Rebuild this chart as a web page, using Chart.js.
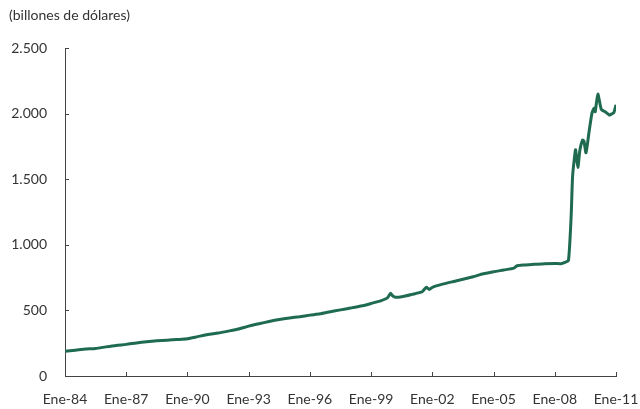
<!DOCTYPE html>
<html>
<head>
<meta charset="utf-8">
<script src="https://cdn.jsdelivr.net/npm/chart.js@4/dist/chart.umd.min.js"></script>
<style>
    html, body { margin: 0; padding: 0; background: #fff; }
    #wrap { width: 640px; height: 409px; position: relative; }
</style>
</head>
<body>
<div id="wrap"><canvas id="myChart"></canvas></div>
<script>
// base monetaria (fecha en años decimales, valor en miles de millones)
const fechas = [
    1984.0, 1984.5, 1985.0, 1985.5, 1986.0, 1986.5, 1987.0, 1987.5, 1988.0, 1988.5,
    1989.0, 1989.5, 1990.0, 1990.5, 1991.0, 1991.5, 1992.0, 1992.5, 1993.0, 1993.5,
    1994.0, 1994.5, 1995.0, 1995.5, 1996.0, 1996.5, 1997.0, 1997.5, 1998.0, 1998.5,
    1999.0, 1999.5, 1999.8, 1999.95, 2000.05, 2000.2, 2000.5, 2001.0, 2001.5, 2001.7,
    2001.85, 2002.0, 2002.5, 2003.0, 2003.5, 2004.0, 2004.5, 2005.0, 2005.5, 2006.0,
    2006.15, 2006.5, 2007.0, 2007.5, 2008.0, 2008.3, 2008.5, 2008.67, 2008.8, 2008.87,
    2008.95, 2009.02, 2009.13, 2009.23, 2009.36, 2009.43, 2009.53, 2009.67, 2009.82, 2009.92,
    2009.98, 2010.11, 2010.28, 2010.47, 2010.67, 2010.77, 2010.89, 2010.98
];
const base = [
    188, 197, 205, 210, 222, 233, 241, 252, 261, 268,
    273, 278, 284, 300, 316, 327, 342, 358, 380, 398,
    415, 430, 442, 452, 464, 474, 490, 504, 518, 533,
    553, 575, 595, 630, 612, 600, 604, 622, 642, 676,
    660, 676, 700, 719, 737, 757, 779, 795, 808, 822,
    840, 846, 851, 856, 858, 856, 866, 880, 1210, 1515,
    1645, 1725, 1590, 1720, 1798, 1790, 1701, 1850, 2002, 2040,
    2014, 2149, 2032, 2014, 1989, 1996, 2006, 2057
];
const xTicks = ['Ene-84', 'Ene-87', 'Ene-90', 'Ene-93', 'Ene-96', 'Ene-99', 'Ene-02', 'Ene-05', 'Ene-08', 'Ene-11'];
const yTicks = [0, 500, 1000, 1500, 2000, 2500];
const unidad = '(billones de dólares)';

function formatearNumero(numero) {
    // 2500 -> 2.500
    return numero.toString().replace(/\B(?=(\d{3})+(?!\d))/g, ".");
}

const puntos = fechas.map((f, i) => ({ x: f, y: base[i] }));

// marcas de los ejes hacia adentro y texto de unidad
const extras = {
    id: 'extras',
    afterDraw(chart) {
        const ctx = chart.ctx;
        const xs = chart.scales.x;
        const ys = chart.scales.y;
        const area = chart.chartArea;
        ctx.save();
        ctx.strokeStyle = '#444';
        ctx.lineWidth = 1;
        ctx.beginPath();
        xs.ticks.forEach((t) => {
            const px = Math.round(xs.getPixelForValue(t.value)) + 0.5;
            ctx.moveTo(px, area.bottom);
            ctx.lineTo(px, area.bottom - 4);
        });
        ys.ticks.forEach((t) => {
            const py = Math.round(ys.getPixelForValue(t.value)) + 0.5;
            ctx.moveTo(area.left, py);
            ctx.lineTo(area.left + 4, py);
        });
        ctx.stroke();
        ctx.fillStyle = '#333';
        ctx.font = '14px Lato';
        ctx.textBaseline = 'middle';
        ctx.textAlign = 'left';
        ctx.fillText(unidad, 9, 15);
        ctx.restore();
    }
};

const ctx = document.getElementById('myChart').getContext('2d');
const myChart = new Chart(ctx, {
    type: 'line',
    data: {
        datasets: [{
            data: puntos,
            borderColor: '#1f6b50',
            borderWidth: 3,
            pointRadius: 0,
            fill: false,
            tension: 0.2,
            borderJoinStyle: 'round',
            borderCapStyle: 'round'
        }]
    },
    options: {
        responsive: true,
        maintainAspectRatio: false,
        animation: false,
        layout: { padding: { top: 48, right: 24, left: 0, bottom: 0 } },
        plugins: {
            legend: { display: false },
            tooltip: { enabled: false }
        },
        scales: {
            x: {
                type: 'linear',
                min: 1984,
                max: 2011,
                grid: { display: false, drawTicks: false },
                border: { display: true, color: '#444', width: 1 },
                ticks: {
                    stepSize: 3,
                    autoSkip: false,
                    maxRotation: 0,
                    padding: 15,
                    color: '#333',
                    font: { family: 'Lato', size: 14 },
                    callback: (v) => xTicks[Math.round((v - 1984) / 3)]
                },
                afterFit: (scale) => {
                    scale.height = 33;
                    scale.paddingLeft = 0;
                    scale.paddingRight = 0;
                }
            },
            y: {
                min: 0,
                max: 2500,
                grid: { display: false, drawTicks: false },
                border: { display: true, color: '#444', width: 1 },
                afterBuildTicks: (scale) => { scale.ticks = yTicks.map((v) => ({ value: v })); },
                ticks: {
                    padding: 18,
                    color: '#333',
                    font: { family: 'Lato', size: 14 },
                    callback: (v) => formatearNumero(v)
                },
                afterFit: (scale) => {
                    scale.width = 65;
                    scale.paddingTop = 0;
                    scale.paddingBottom = 0;
                }
            }
        }
    },
    plugins: [extras]
});
</script>
</body>
</html>
